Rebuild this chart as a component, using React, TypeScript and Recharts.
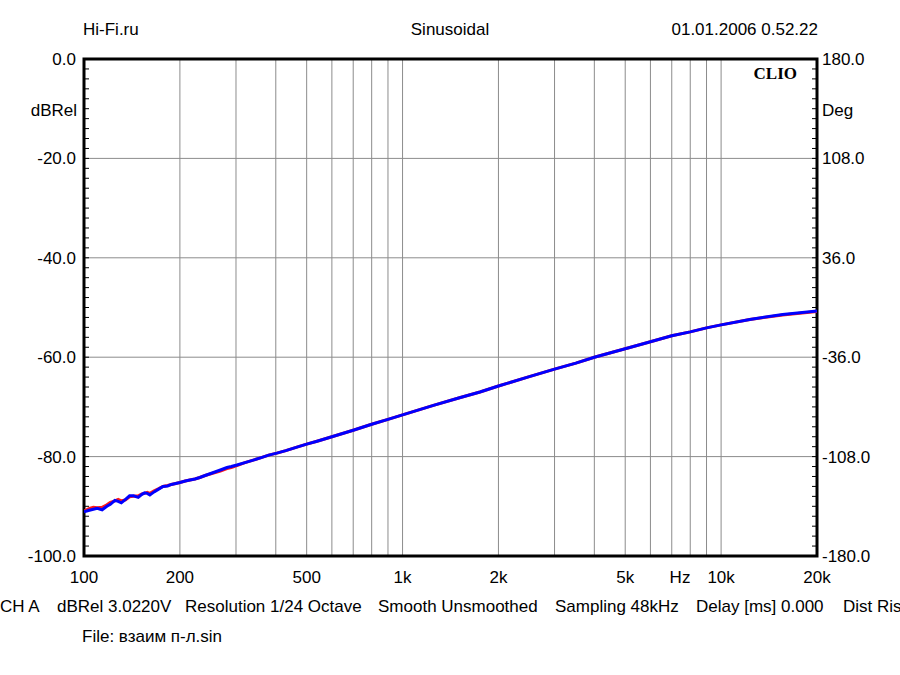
import { LineChart, Line, XAxis, YAxis, CartesianGrid, ReferenceArea } from "recharts";

// frequency points (Hz)
const freqs = [
  100, 104, 107, 110, 114, 118, 121, 125, 128, 131, 135, 139, 143, 148, 152, 155, 158, 161, 166, 171,
  177, 183, 188, 194, 200, 208, 215, 223, 231, 240, 255, 268, 281, 290, 302, 320, 340, 360, 380, 403,
  430, 466, 500, 539, 600, 700, 800, 900, 1000, 1250, 1500, 1750, 2000, 2500, 3000, 3500, 4000, 4500,
  5000, 6000, 7000, 8000, 9000, 10000, 12300, 15600, 20000,
];

// blue trace (dBRel)
const blueDb = [
  -91.1, -90.8, -90.6, -90.4, -90.7, -90.0, -89.6, -88.8, -89.0, -89.3, -88.6, -87.9, -87.9, -88.2, -87.6, -87.3, -87.4, -87.7, -87.1, -86.6,
  -86.0, -85.9, -85.6, -85.4, -85.2, -84.9, -84.7, -84.5, -84.2, -83.8, -83.2, -82.7, -82.2, -82.0, -81.7, -81.2, -80.7, -80.2, -79.7, -79.3,
  -78.8, -78.1, -77.5, -76.9, -76.0, -74.7, -73.5, -72.5, -71.6, -69.7, -68.2, -67.0, -65.8, -63.9, -62.4, -61.2, -60.0, -59.1,
  -58.3, -56.9, -55.7, -54.9, -54.1, -53.5, -52.4, -51.4, -50.7,
];

// red trace (dBRel)
const redDb = [
  -91.0, -90.4, -90.2, -90.3, -90.2, -89.7, -89.2, -88.9, -88.6, -88.9, -88.7, -88.1, -88.0, -87.9, -87.5, -87.4, -87.2, -87.4, -86.9, -86.5,
  -86.0, -85.8, -85.6, -85.4, -85.2, -84.9, -84.7, -84.5, -84.2, -83.8, -83.3, -82.9, -82.4, -82.2, -81.8, -81.2, -80.7, -80.2, -79.7, -79.3,
  -78.8, -78.1, -77.5, -76.9, -76.0, -74.7, -73.5, -72.5, -71.6, -69.7, -68.2, -67.0, -65.8, -63.9, -62.4, -61.2, -60.0, -59.1,
  -58.3, -56.9, -55.7, -54.9, -54.1, -53.5, -52.4, -51.5, -50.8,
];

const gridFreqs = [
  100, 200, 300, 400, 500, 600, 700, 800, 900, 1000, 2000, 3000, 4000, 5000, 6000, 7000, 8000, 9000, 10000, 20000,
];
const freqLabels: Record<number, string> = {
  100: "100", 200: "200", 500: "500", 1000: "1k", 2000: "2k", 5000: "5k", 10000: "10k", 20000: "20k",
};
const dbTicks = [-100, -80, -60, -40, -20, 0];
const degTicks = [-180, -108, -36, 36, 108, 180];
const minorTicks = Array.from({ length: 51 }, (_, i) => -100 + i * 2);

const data = freqs.map((f, i) => ({ f, blue: blueDb[i], red: redDb[i] }));

const font = "'Liberation Sans', Arial, sans-serif";
const tickStyle = { fill: "#000", fontSize: 17, fontFamily: font };

export default function App() {
  return (
    <div style={{ position: "absolute", left: 0, top: 0, width: 900, height: 675, overflow: "hidden", background: "#fff" }}>
      <LineChart width={900} height={675} data={data} margin={{ top: 59, right: 0, bottom: 89, left: 0 }}>
        <CartesianGrid yAxisId="db" stroke="#8c8c8c" horizontalValues={dbTicks} verticalValues={gridFreqs} />
        <XAxis
          dataKey="f"
          type="number"
          scale="log"
          domain={[100, 20000]}
          ticks={gridFreqs}
          tickFormatter={(v: number) => freqLabels[v] ?? ""}
          interval={0}
          height={30}
          tickSize={0}
          tickMargin={15}
          axisLine={false}
          tick={tickStyle}
          allowDataOverflow
        />
        <YAxis
          yAxisId="db"
          domain={[-100, 0]}
          ticks={dbTicks}
          tickFormatter={(v: number) => v.toFixed(1)}
          width={84}
          tickSize={0}
          tickMargin={8}
          axisLine={false}
          tick={tickStyle}
        />
        <YAxis
          yAxisId="deg"
          orientation="right"
          domain={[-180, 180]}
          ticks={degTicks}
          tickFormatter={(v: number) => v.toFixed(1)}
          width={83}
          tickSize={0}
          tickMargin={5}
          axisLine={false}
          tick={tickStyle}
        />
        <YAxis
          yAxisId="minorL"
          mirror
          domain={[-100, 0]}
          ticks={minorTicks}
          interval={0}
          tickFormatter={() => ""}
          tickSize={5}
          axisLine={false}
          tickLine={{ stroke: "#000" }}
        />
        <YAxis
          yAxisId="minorR"
          orientation="right"
          mirror
          domain={[-100, 0]}
          ticks={minorTicks}
          interval={0}
          tickFormatter={() => ""}
          tickSize={5}
          axisLine={false}
          tickLine={{ stroke: "#000" }}
        />
        {/* invisible series so the secondary axes get drawn */}
        <Line yAxisId="deg" dataKey="blue" stroke="none" dot={false} isAnimationActive={false} />
        <Line yAxisId="minorL" dataKey="blue" stroke="none" dot={false} isAnimationActive={false} />
        <Line yAxisId="minorR" dataKey="blue" stroke="none" dot={false} isAnimationActive={false} />
        <Line yAxisId="db" dataKey="red" type="linear" stroke="#ff1a1a" strokeWidth={3} dot={false} isAnimationActive={false} />
        <Line yAxisId="db" dataKey="blue" type="linear" stroke="#0000ff" strokeWidth={3} dot={false} isAnimationActive={false} />
        <ReferenceArea yAxisId="db" x1={100} x2={20000} y1={-100} y2={0} fill="none" stroke="#000" strokeWidth={3} ifOverflow="visible" />
      </LineChart>
      <svg width={900} height={675} style={{ position: "absolute", left: 0, top: 0, pointerEvents: "none" }}>
        <g fontFamily={font} fontSize={17} fill="#000">
          <text x={83} y={35}>Hi-Fi.ru</text>
          <text x={450} y={35} textAnchor="middle">Sinusoidal</text>
          <text x={818} y={35} textAnchor="end">01.01.2006 0.52.22</text>
          <text x={77} y={116} textAnchor="end">dBRel</text>
          <text x={822} y={116}>Deg</text>
          <text x={680} y={583} textAnchor="middle">Hz</text>
          <text x={0} y={612}>CH A</text>
          <text x={57} y={612}>dBRel 3.0220V</text>
          <text x={185} y={612}>Resolution 1/24 Octave</text>
          <text x={378} y={612}>Smooth Unsmoothed</text>
          <text x={555} y={612}>Sampling 48kHz</text>
          <text x={696} y={612}>Delay [ms] 0.000</text>
          <text x={843} y={612}>Dist Ris</text>
          <text x={82} y={642}>File: взаим п-л.sin</text>
        </g>
        <text x={797} y={79} textAnchor="end" fontFamily="'Liberation Serif', 'Times New Roman', serif" fontWeight="bold" fontSize={17}>
          CLIO
        </text>
      </svg>
    </div>
  );
}
